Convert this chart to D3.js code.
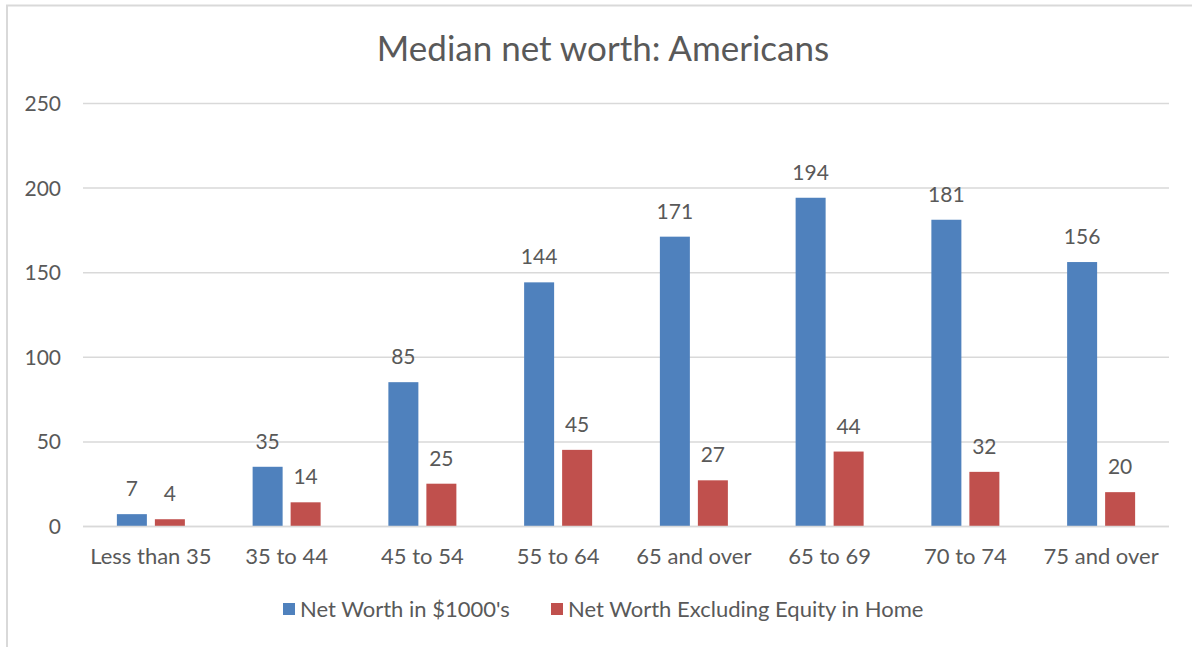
<!DOCTYPE html>
<html>
<head>
<meta charset="utf-8">
<script src="https://cdn.jsdelivr.net/npm/d3@7"></script>
<style>
  html, body { margin: 0; padding: 0; background: #fff; }
  svg { display: block; }
  text { font-family: Lato, "Open Sans", sans-serif; fill: #595959; }
</style>
</head>
<body>
<svg width="1192" height="647"></svg>
<script>
// data
var categories = ["Less than 35", "35 to 44", "45 to 54", "55 to 64", "65 and over", "65 to 69", "70 to 74", "75 and over"];
var seriesNames = ["Net Worth in $1000's", "Net Worth Excluding Equity in Home"];
var netWorth = [7, 35, 85, 144, 171, 194, 181, 156];
var netWorthExHome = [4, 14, 25, 45, 27, 44, 32, 20];
var yTicks = [0, 50, 100, 150, 200, 250];
var colors = ["#4F81BD", "#C0504D"];

window.onload = function() {
	var svg = d3.select("svg");
	var values = [netWorth, netWorthExHome];

	// chart border
	svg.append("rect")
		.attr("x", 7).attr("y", 5.5)
		.attr("width", 1200).attr("height", 700)
		.attr("fill", "none")
		.attr("stroke", "#d9d9d9")
		.attr("stroke-width", 2);

	// scales
	var x0 = d3.scaleBand().domain(categories).range([83, 1169]);
	var x1 = d3.scaleBand().domain(d3.range(seriesNames.length))
		.range([0, 68]).paddingInner(0.2105);
	var y = d3.scaleLinear().domain([0, 250]).range([526, 103]);

	// gridlines
	svg.append("g")
		.selectAll("line")
		.data(yTicks)
		.enter().append("line")
			.attr("x1", 83).attr("x2", 1169)
			.attr("y1", function(d) { return y(d) + 0.5; })
			.attr("y2", function(d) { return y(d) + 0.5; })
			.attr("stroke", "#d9d9d9")
			.attr("stroke-width", 1.5);

	// y axis labels
	var yAxis = d3.axisLeft(y).tickValues(yTicks).tickSize(0).tickPadding(0);
	var ya = svg.append("g").attr("transform", "translate(61,0)").call(yAxis);
	ya.select(".domain").remove();
	ya.selectAll("text").attr("font-size", 21).attr("dy", "0.36em")
		.style("font-family", "Lato, 'Open Sans', sans-serif").attr("fill", "#595959");

	// x axis labels
	var xAxis = d3.axisBottom(x0).tickSize(0).tickPadding(0);
	var xa = svg.append("g").attr("transform", "translate(0,547)").call(xAxis);
	xa.select(".domain").remove();
	xa.selectAll("text").attr("font-size", 22).attr("dy", "0.76em")
		.style("font-family", "Lato, 'Open Sans', sans-serif").attr("fill", "#595959");

	// bars
	var groups = svg.append("g")
		.selectAll("g")
		.data(categories)
		.enter().append("g")
			.attr("transform", function(d) { return "translate(" + (x0(d) + x0.bandwidth() / 2 - 34) + ",0)"; });

	groups.selectAll("rect")
		.data(function(d, i) { return values.map(function(v, s) { return {s: s, v: v[i]}; }); })
		.enter().append("rect")
			.attr("x", function(d) { return x1(d.s); })
			.attr("width", x1.bandwidth())
			.attr("y", function(d) { return y(d.v); })
			.attr("height", function(d) { return y(0) - y(d.v); })
			.attr("fill", function(d) { return colors[d.s]; });

	groups.selectAll("text")
		.data(function(d, i) { return values.map(function(v, s) { return {s: s, v: v[i]}; }); })
		.enter().append("text")
			.attr("x", function(d) { return x1(d.s) + x1.bandwidth() / 2; })
			.attr("y", function(d) { return y(d.v) - 18; })
			.attr("text-anchor", "middle")
			.attr("font-size", 21)
			.attr("fill", "#404040")
			.text(function(d) { return d.v; });

	// axis baseline
	svg.append("line")
		.attr("x1", 83).attr("x2", 1169)
		.attr("y1", y(0) + 0.5).attr("y2", y(0) + 0.5)
		.attr("stroke", "#d9d9d9").attr("stroke-width", 1.5);

	// title
	svg.append("text")
		.attr("x", 603).attr("y", 61)
		.attr("text-anchor", "middle")
		.attr("font-size", 35)
		.text("Median net worth: Americans");

	// legend
	var legendX = [283, 551];
	var legend = svg.append("g")
		.selectAll("g")
		.data(seriesNames)
		.enter().append("g")
			.attr("transform", function(d, i) { return "translate(" + legendX[i] + ",603)"; });
	legend.append("rect")
		.attr("width", 12).attr("height", 12)
		.attr("fill", function(d, i) { return colors[i]; });
	legend.append("text")
		.attr("x", 17).attr("y", 14)
		.attr("font-size", 22)
		.text(function(d) { return d; });
};
</script>
</body>
</html>
